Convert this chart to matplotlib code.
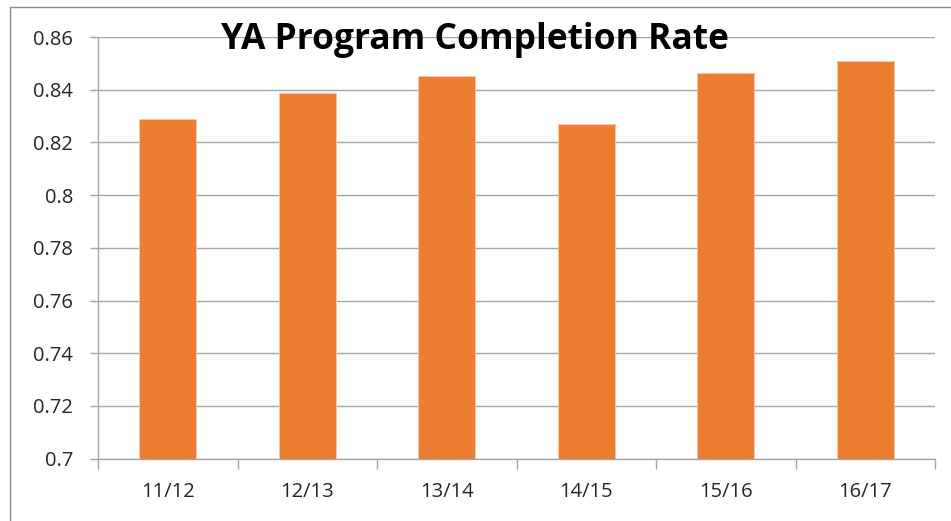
import matplotlib
matplotlib.use("Agg")
import matplotlib.pyplot as plt
from matplotlib.patches import Rectangle
import numpy as np

categories = ["11/12", "12/13", "13/14", "14/15", "15/16", "16/17"]
values = [0.8288, 0.8389, 0.8452, 0.8270, 0.8462, 0.8510]
yticks = [0.7, 0.72, 0.74, 0.76, 0.78, 0.8, 0.82, 0.84, 0.86]
ytick_labels = ["0.7", "0.72", "0.74", "0.76", "0.78", "0.8", "0.82", "0.84", "0.86"]
title = "YA Program Completion Rate"

plt.rcParams['font.family'] = ['Open Sans', 'DejaVu Sans']

fig = plt.figure(figsize=(9.51, 5.21), dpi=100)
ax = fig.add_axes([98/951, 1 - 458.7/521, (935-98)/951, (458.7-37)/521])

grid_c = "#a6a6a6"
x = np.arange(len(categories))
ax.bar(x, values, width=0.41, color="#ED7D31", edgecolor="#f6c9a8", linewidth=0.6, zorder=3)

ax.set_xlim(-0.5, len(categories) - 0.5)
ax.set_ylim(0.7, 0.86)
ax.set_yticks(yticks)
ax.set_yticklabels(ytick_labels)
ax.set_xticks(x)
ax.set_xticklabels(categories)
ax.set_xticks(np.arange(-0.5, len(categories), 1.0), minor=True)

ax.yaxis.grid(True, color=grid_c, linewidth=1.0, zorder=0)
ax.set_axisbelow(True)
for s in ["top", "right"]:
    ax.spines[s].set_visible(False)
for s in ["left", "bottom"]:
    ax.spines[s].set_color(grid_c)
    ax.spines[s].set_linewidth(1.0)

ax.tick_params(axis='y', length=6, width=1, color=grid_c, pad=12, labelsize=14.5, labelcolor="#262626")
ax.tick_params(axis='x', which='major', length=0, pad=17, labelsize=14.5, labelcolor="#262626")
ax.tick_params(axis='x', which='minor', length=7, width=1, color=grid_c)

fig.text(475/951, 1 - 40/521, title, ha='center', va='center', fontsize=25.5,
         fontweight='bold', color='black', zorder=5)

# outer chart frame
fig.patches.append(Rectangle((10/951, -0.05), 1.2, 1 - 7/521 + 0.05, transform=fig.transFigure,
                             fill=False, edgecolor="#8c8c8c", linewidth=1.0))

fig.savefig("out.png", dpi=100)
